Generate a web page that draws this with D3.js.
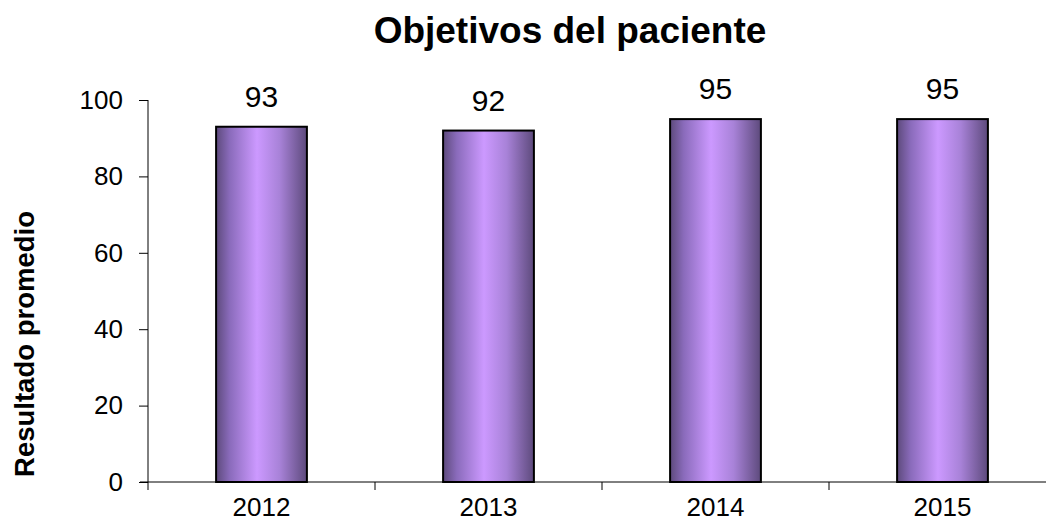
<!DOCTYPE html>
<html><head><meta charset="utf-8">
<script src="https://cdn.jsdelivr.net/npm/d3@7"></script>
<style>body{margin:0;background:#fff}svg{display:block}</style>
</head><body>
<svg id="chart" width="1046" height="523"></svg>
<script>
const categories = ["2012", "2013", "2014", "2015"];
const values = [93, 92, 95, 95];
const yTicks = [0, 20, 40, 60, 80, 100];
const title = "Objetivos del paciente";
const yTitle = "Resultado promedio";

const svg = d3.select("#chart");
const font = "Arial, 'Liberation Sans', sans-serif";
const x = d3.scaleBand().domain(categories).range([148, 1056]).paddingInner(0.6).paddingOuter(0.3);
const xb = d3.scaleBand().domain(categories).range([148, 1056]);
const y = d3.scaleLinear().domain([0, 100]).range([482, 100]);

const defs = svg.append("defs");
const g = defs.append("linearGradient").attr("id", "barGrad").attr("x1", "0").attr("x2", "1").attr("y1", "0").attr("y2", "0");
[[0, "#5d4a7c"], [0.15, "#8a6bbb"], [0.45, "#cc99ff"], [0.7, "#a882d8"], [1, "#5d4a7c"]].forEach(([o, c]) =>
  g.append("stop").attr("offset", o).attr("stop-color", c));

// title
svg.append("text").attr("x", 570).attr("y", 43).attr("text-anchor", "middle")
  .attr("font-family", font).attr("font-weight", "bold").attr("font-size", 37).text(title);

// y title
svg.append("text").attr("transform", "translate(34,344) rotate(-90)").attr("text-anchor", "middle")
  .attr("font-family", font).attr("font-weight", "bold").attr("font-size", 27.5).text(yTitle);

// y axis
const yAxis = svg.append("g").attr("transform", "translate(148,0)")
  .call(d3.axisLeft(y).tickValues(yTicks).tickSize(9).tickPadding(16));
yAxis.select(".domain").attr("stroke", "#000").attr("d", "M0,100V482");
yAxis.selectAll("line").attr("stroke", "#000");
yAxis.selectAll("text").attr("font-family", font).attr("font-size", 26).attr("fill", "#000");

// x axis
const xAxis = svg.append("g").attr("transform", "translate(0,482)");
xAxis.append("line").attr("x1", 140).attr("x2", 1056).attr("y1", 0).attr("y2", 0).attr("stroke", "#000");
xAxis.selectAll("line.tk").data(categories).join("line").attr("class", "tk")
  .attr("x1", d => xb(d)).attr("x2", d => xb(d)).attr("y1", 0).attr("y2", 8).attr("stroke", "#000");
xAxis.selectAll("text").data(categories).join("text")
  .attr("x", d => xb(d) + xb.bandwidth() / 2).attr("y", 34).attr("text-anchor", "middle")
  .attr("font-family", font).attr("font-size", 26).text(d => d);

// bars
svg.selectAll("rect.bar").data(values).join("rect").attr("class", "bar")
  .attr("x", (d, i) => x(categories[i])).attr("width", x.bandwidth())
  .attr("y", d => y(d)).attr("height", d => y(0) - y(d))
  .attr("fill", "url(#barGrad)").attr("stroke", "#000").attr("stroke-width", 2);

// labels
svg.selectAll("text.lbl").data(values).join("text").attr("class", "lbl")
  .attr("x", (d, i) => x(categories[i]) + x.bandwidth() / 2).attr("y", d => y(d) - 20)
  .attr("text-anchor", "middle").attr("font-family", font).attr("font-size", 30).text(d => d);
</script>
</body></html>
